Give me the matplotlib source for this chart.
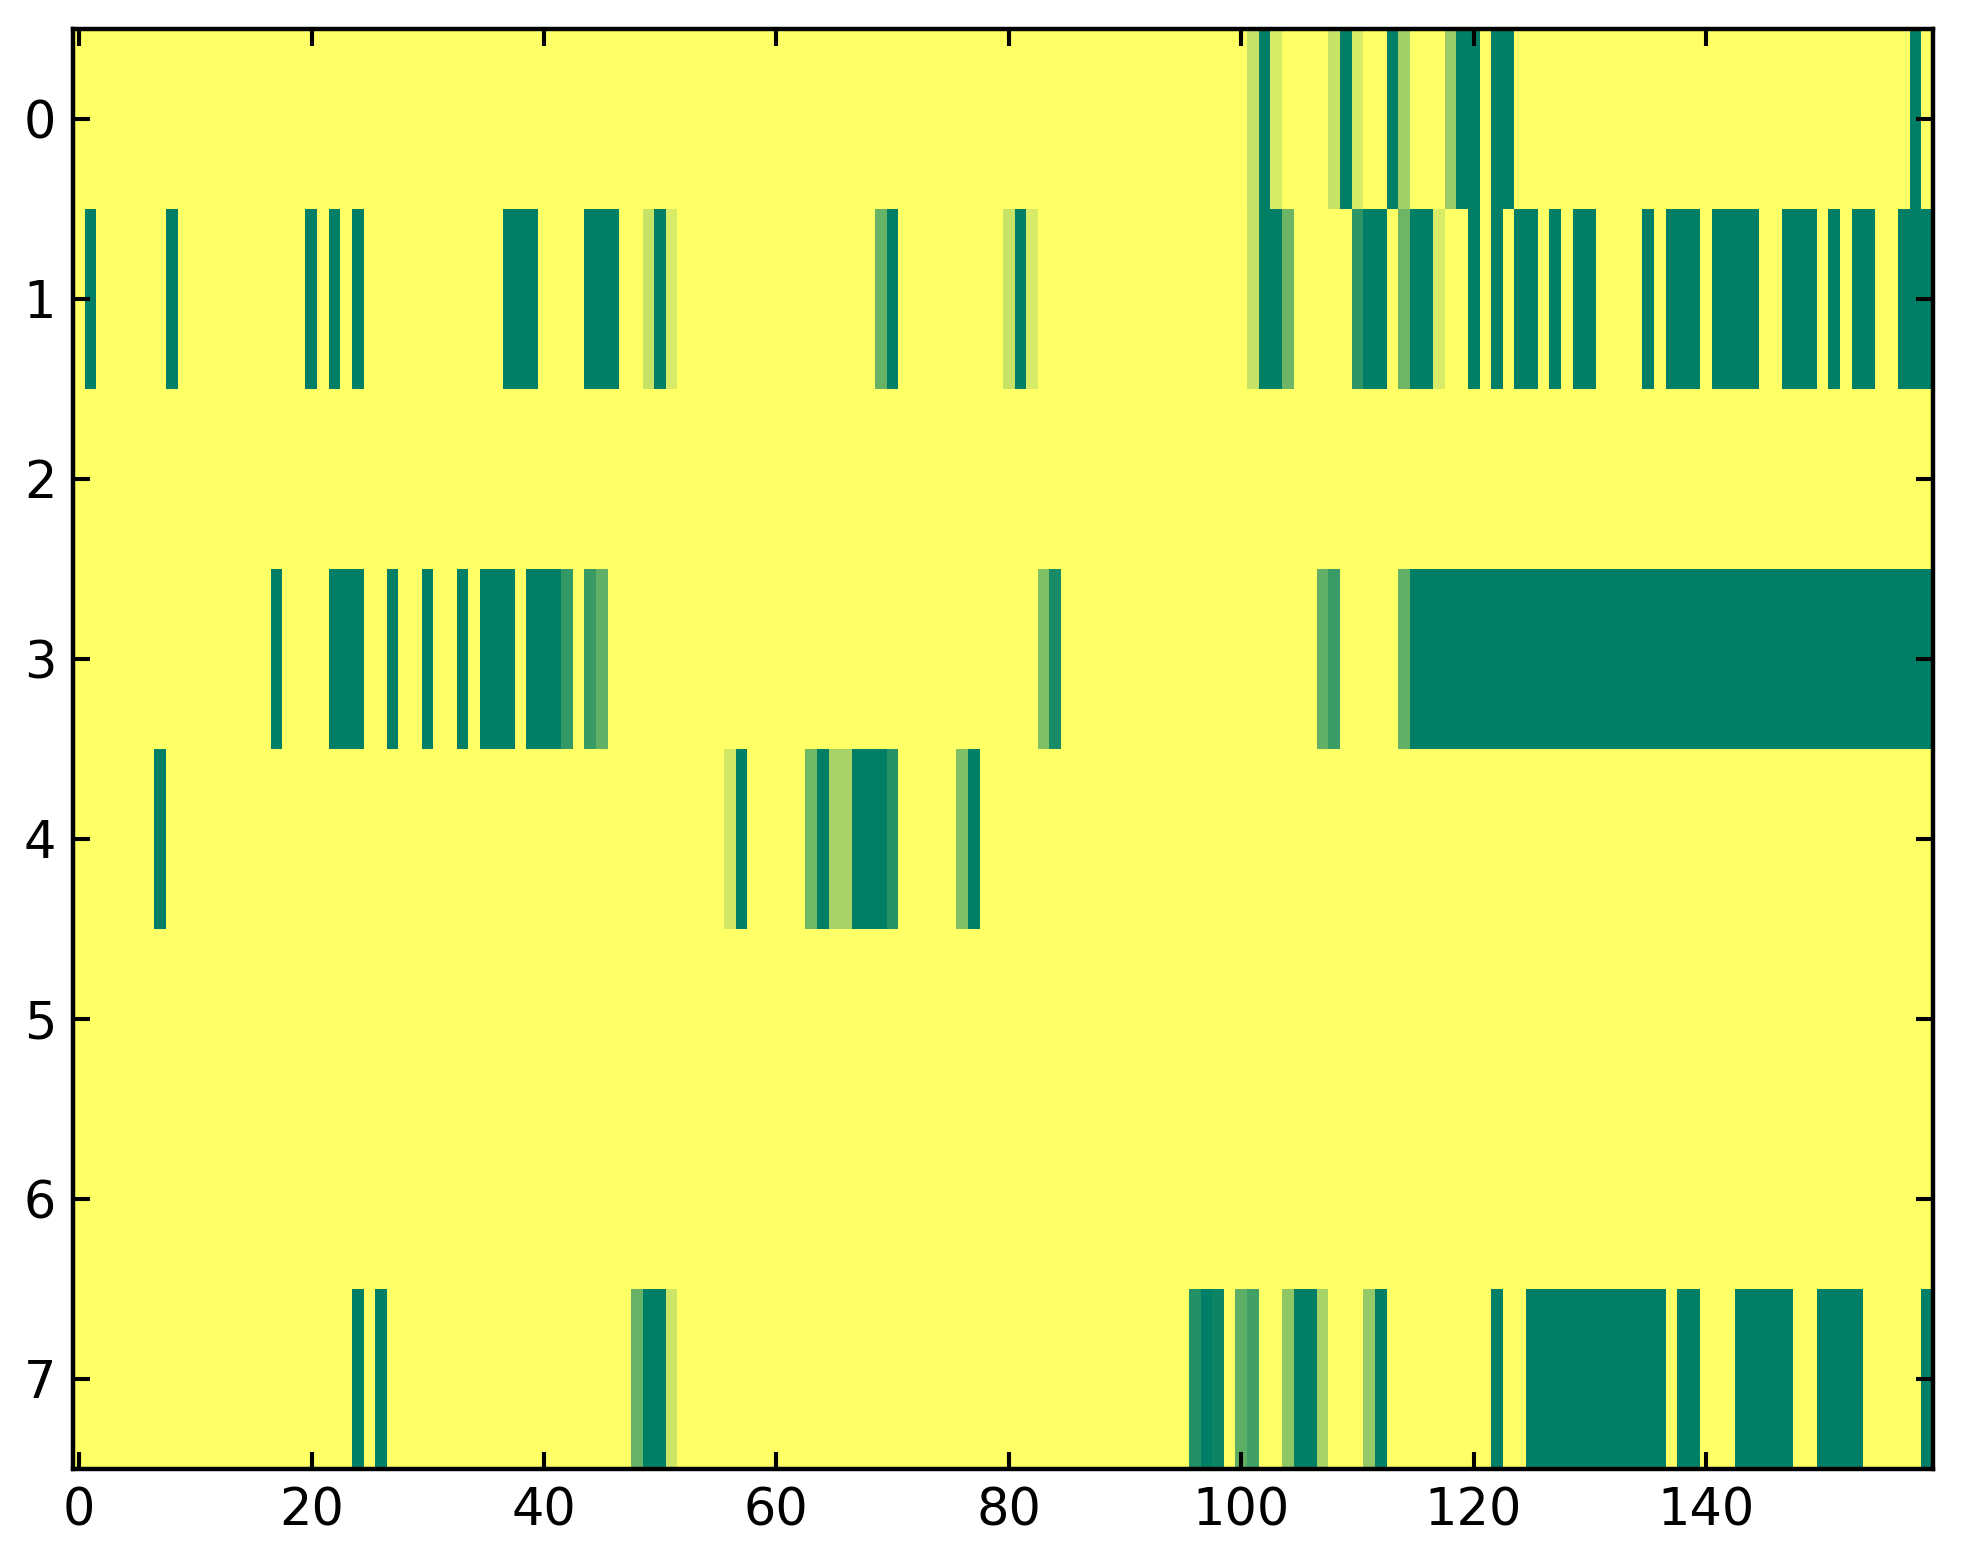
import numpy as np
import matplotlib
matplotlib.use('Agg')
import matplotlib.pyplot as plt

n_cols = 160
n_rows = 8

# each row: (first column, last column, value) runs; all other cells are 0
row0 = [(101, 101, 0.23), (102, 102, 1.0), (103, 103, 0.16),
        (108, 108, 0.22), (109, 109, 1.0), (110, 110, 0.16),
        (113, 113, 1.0), (114, 114, 0.37), (118, 118, 0.40),
        (119, 120, 1.0), (122, 123, 1.0), (158, 158, 1.0)]
row1 = [(1, 1, 1.0), (8, 8, 1.0), (20, 20, 1.0), (22, 22, 1.0), (24, 24, 1.0),
        (37, 39, 1.0), (44, 46, 1.0), (49, 49, 0.22), (50, 50, 1.0), (51, 51, 0.16),
        (69, 69, 0.6), (70, 70, 1.0), (80, 80, 0.22), (81, 81, 1.0), (82, 82, 0.16),
        (101, 101, 0.22), (102, 103, 1.0), (104, 104, 0.57),
        (110, 110, 0.82), (111, 112, 1.0), (114, 114, 0.57), (115, 116, 1.0),
        (117, 117, 0.16), (120, 120, 1.0), (122, 122, 1.0), (124, 125, 1.0),
        (127, 127, 1.0), (129, 130, 1.0), (135, 135, 1.0), (137, 139, 1.0),
        (141, 144, 1.0), (147, 149, 1.0), (151, 151, 1.0), (153, 154, 1.0),
        (157, 159, 1.0)]
row2 = []
row3 = [(17, 17, 1.0), (22, 24, 1.0), (27, 27, 1.0), (30, 30, 1.0), (33, 33, 1.0),
        (35, 37, 1.0), (39, 41, 1.0), (42, 42, 0.8), (44, 44, 0.78), (45, 45, 0.62),
        (83, 83, 0.5), (84, 84, 0.9), (107, 107, 0.62), (108, 108, 0.77),
        (114, 114, 0.62), (115, 159, 1.0)]
row4 = [(7, 7, 1.0), (56, 56, 0.18), (57, 57, 1.0),
        (63, 63, 0.55), (64, 64, 1.0), (65, 66, 0.35), (67, 69, 1.0), (70, 70, 0.85),
        (76, 76, 0.5), (77, 77, 1.0)]
row5 = []
row6 = []
row7 = [(24, 24, 1.0), (26, 26, 1.0), (48, 48, 0.6), (49, 50, 1.0), (51, 51, 0.2),
        (96, 96, 0.86), (97, 97, 1.0), (98, 98, 0.95), (100, 100, 0.63), (101, 101, 0.74),
        (104, 104, 0.44), (105, 106, 1.0), (107, 107, 0.34), (111, 111, 0.42),
        (112, 112, 1.0), (122, 122, 1.0), (125, 136, 1.0), (138, 139, 1.0),
        (143, 147, 1.0), (150, 153, 1.0), (159, 159, 1.0)]

rows = [row0, row1, row2, row3, row4, row5, row6, row7]

# build the matrix from the runs
data = np.zeros((n_rows, n_cols))
for r, runs in enumerate(rows):
    for start, stop, val in runs:
        data[r, start:stop + 1] = val

dpi = 245
fig = plt.figure(figsize=(1963 / dpi, 1564 / dpi), dpi=dpi)
ax = fig.add_axes([73.3 / 1963, 1 - 1469 / 1564, (1932.5 - 73.3) / 1963, 1440 / 1564])

ax.imshow(data, cmap='summer_r', vmin=0, vmax=1, aspect='auto', interpolation='nearest')

ax.set_xticks(range(0, 160, 20))
ax.set_yticks(range(n_rows))
ax.tick_params(direction='in', top=True, right=True, length=5, width=1.2,
               labelsize=15, pad=5)
for s in ax.spines.values():
    s.set_linewidth(1.3)

fig.savefig('out.png', dpi=dpi)
